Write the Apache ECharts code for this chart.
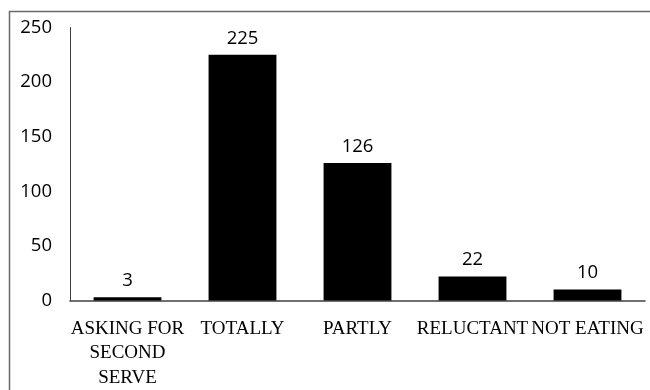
<!DOCTYPE html>
<html>
<head>
<meta charset="utf-8">
<script src="https://cdn.jsdelivr.net/npm/echarts@6/dist/echarts.min.js"></script>
<style>
  html, body { margin: 0; padding: 0; background: #fff; }
  #chart { width: 650px; height: 390px; }
</style>
</head>
<body>
<div id="chart"></div>
<script>
// Eating behaviour counts per response category
const categories = ['ASKING FOR\nSECOND\nSERVE', 'TOTALLY', 'PARTLY', 'RELUCTANT', 'NOT EATING'];
const counts = [3, 225, 126, 22, 10];
const yTicks = { min: 0, max: 250, interval: 50 };

const chart = echarts.init(document.getElementById('chart'), null, { renderer: 'canvas' });

chart.setOption({
  animation: false,
  backgroundColor: '#fff',
  graphic: [{
    type: 'rect',
    shape: { x: 9.5, y: 11.5, width: 700, height: 500 },
    style: { fill: 'none', stroke: '#6a6a6a', lineWidth: 1.5 },
    silent: true
  }],
  grid: { left: 70, right: 5, top: 27.5, bottom: 87 },
  xAxis: {
    type: 'category',
    data: categories,
    axisLine: { show: true, lineStyle: { color: '#404040', width: 1.5 } },
    axisTick: { show: false },
    axisLabel: {
      interval: 0,
      margin: 16,
      fontFamily: 'Liberation Serif',
      fontSize: 19,
      lineHeight: 24.5,
      color: '#000'
    }
  },
  yAxis: {
    type: 'value',
    min: yTicks.min,
    max: yTicks.max,
    interval: yTicks.interval,
    axisLine: { show: true, lineStyle: { color: '#404040', width: 1 } },
    axisTick: { show: false },
    splitLine: { show: false },
    axisLabel: {
      margin: 18,
      fontFamily: 'Open Sans',
      fontSize: 18.5,
      color: '#000'
    }
  },
  series: [{
    type: 'bar',
    data: counts,
    barCategoryGap: '41%',
    itemStyle: { color: '#000' },
    label: {
      show: true,
      position: 'top',
      distance: 7,
      fontFamily: 'Open Sans',
      fontSize: 18.5,
      color: '#000'
    }
  }]
});
</script>
</body>
</html>
